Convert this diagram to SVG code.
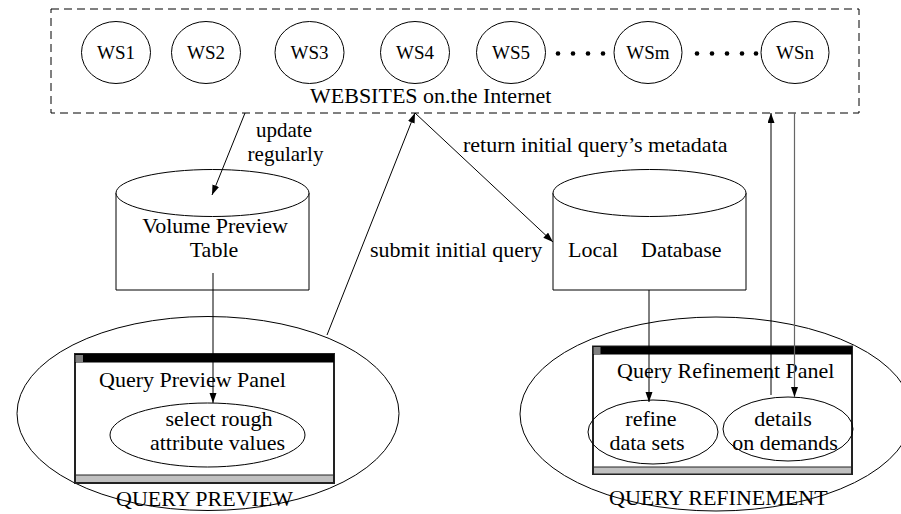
<svg xmlns="http://www.w3.org/2000/svg" width="901" height="514" viewBox="0 0 901 514">
<style>
text{font-family:"Liberation Serif","Times New Roman",serif;font-size:22px;fill:#000}
.ws{font-size:19px}
.sm{font-size:21px}
.s{fill:none;stroke:#000;stroke-width:1}
.f{fill:#fff;stroke:#000;stroke-width:1}
.panel{fill:#fff;stroke:#222;stroke-width:2}
.c{stroke:#000;stroke-width:1;fill:none}
.g{stroke:#666;stroke-width:1.2;fill:none}
</style>
<defs>
<marker id="ah" markerUnits="userSpaceOnUse" markerWidth="11" markerHeight="8" refX="10" refY="3.5" orient="auto">
<path d="M0,0 L10,3.5 L0,7 z" fill="#000"/>
</marker>
</defs>
<g id="websites">
<rect x="51" y="9" width="808" height="104" fill="none" stroke="#000" stroke-dasharray="8,5"/>
<g id="ws1"><ellipse class="f" cx="116" cy="52.5" rx="34.5" ry="31"/><text class="ws" x="116" y="58.5" text-anchor="middle">WS1</text></g>
<g id="ws2"><ellipse class="f" cx="206" cy="52.5" rx="34.5" ry="31"/><text class="ws" x="206" y="58.5" text-anchor="middle">WS2</text></g>
<g id="ws3"><ellipse class="f" cx="309.5" cy="52.5" rx="34.5" ry="31"/><text class="ws" x="309.5" y="58.5" text-anchor="middle">WS3</text></g>
<g id="ws4"><ellipse class="f" cx="415" cy="52.5" rx="34.5" ry="31"/><text class="ws" x="415" y="58.5" text-anchor="middle">WS4</text></g>
<g id="ws5"><ellipse class="f" cx="511" cy="52.5" rx="34.5" ry="31"/><text class="ws" x="511" y="58.5" text-anchor="middle">WS5</text></g>
<g id="wsm"><ellipse class="f" cx="648" cy="52.5" rx="34" ry="31"/><text class="ws" x="648" y="58.5" text-anchor="middle">WSm</text></g>
<g id="wsn"><ellipse class="f" cx="795" cy="52.5" rx="34" ry="31"/><text class="ws" x="795" y="58.5" text-anchor="middle">WSn</text></g>
<g id="dots" fill="#000">
<circle cx="558" cy="53.5" r="2.3"/><circle cx="573" cy="53.5" r="2.3"/><circle cx="588" cy="53.5" r="2.3"/><circle cx="603" cy="53.5" r="2.3"/>
<circle cx="697" cy="53.5" r="2.3"/><circle cx="712" cy="53.5" r="2.3"/><circle cx="727" cy="53.5" r="2.3"/><circle cx="742" cy="53.5" r="2.3"/><circle cx="756" cy="53.5" r="2.3"/>
</g>
<text x="310" y="103">WEBSITES on.the Internet</text>
</g>
<g id="vpt">
<path class="f" d="M116,193 L116,290 L309,290 L309,193"/>
<ellipse class="f" cx="212.5" cy="193" rx="96.5" ry="23.5"/>
<text x="215" y="233" text-anchor="middle">Volume Preview</text>
<text x="214" y="257" text-anchor="middle">Table</text>
</g>
<g id="localdb">
<path class="f" d="M553,193 L553,290 L746,290 L746,193"/>
<ellipse class="f" cx="649.5" cy="193" rx="96.5" ry="23.5"/>
<text x="568" y="257">Local</text>
<text x="641" y="257">Database</text>
</g>
<g id="querypreview">
<ellipse class="s" cx="208" cy="413.5" rx="191" ry="97"/>
<rect class="panel" x="75" y="354" width="259" height="129"/>
<rect x="75" y="354" width="259" height="8.5" fill="#000"/>
<rect x="75.5" y="355" width="7.5" height="7" fill="#808080"/>
<rect x="76" y="475" width="257" height="7" fill="#c0c0c0"/>
<line x1="75" y1="475" x2="334" y2="475" stroke="#222" stroke-width="1"/>
<text x="99" y="387">Query Preview Panel</text>
<ellipse class="s" cx="207.5" cy="435" rx="97.5" ry="32"/>
<text x="219" y="426" text-anchor="middle">select rough</text>
<text x="217.5" y="450" text-anchor="middle">attribute values</text>
<text x="116" y="506">QUERY PREVIEW</text>
</g>
<g id="queryrefinement">
<ellipse class="s" cx="716" cy="414" rx="196" ry="97"/>
<rect class="panel" x="593" y="346.5" width="259" height="127.5"/>
<rect x="593" y="346.5" width="259" height="8" fill="#000"/>
<rect x="593.5" y="347" width="7" height="7" fill="#808080"/>
<rect x="594" y="467" width="257" height="6.5" fill="#c0c0c0"/>
<line x1="593" y1="467" x2="852" y2="467" stroke="#222" stroke-width="1"/>
<text x="617" y="378">Query Refinement Panel</text>
<ellipse class="s" cx="653" cy="432" rx="65" ry="32"/>
<text x="651" y="426" text-anchor="middle">refine</text>
<text x="647" y="450" text-anchor="middle">data sets</text>
<ellipse class="s" cx="788" cy="429" rx="65" ry="32"/>
<text x="783" y="426" text-anchor="middle">details</text>
<text x="785" y="450" text-anchor="middle">on demands</text>
<text x="609" y="505">QUERY REFINEMENT</text>
</g>
<g id="connectors">
<line class="c" x1="245" y1="113" x2="212" y2="195" marker-end="url(#ah)"/>
<text class="sm" x="284" y="137" text-anchor="middle">update</text>
<text class="sm" x="285.5" y="161" text-anchor="middle">regularly</text>
<line class="c" x1="213" y1="273" x2="213" y2="403" marker-end="url(#ah)"/>
<line class="c" x1="327" y1="335" x2="415" y2="113" marker-end="url(#ah)"/>
<text x="370" y="257">submit initial query</text>
<line class="c" x1="415" y1="113" x2="553" y2="242" marker-end="url(#ah)"/>
<text x="463" y="152">return initial query’s metadata</text>
<line class="c" x1="649" y1="290" x2="649" y2="402" marker-end="url(#ah)"/>
<line class="c" x1="771" y1="395" x2="771" y2="113" marker-end="url(#ah)"/>
<line class="g" x1="794.5" y1="113" x2="794.5" y2="397" marker-end="url(#ah)"/>
</g>
</svg>
